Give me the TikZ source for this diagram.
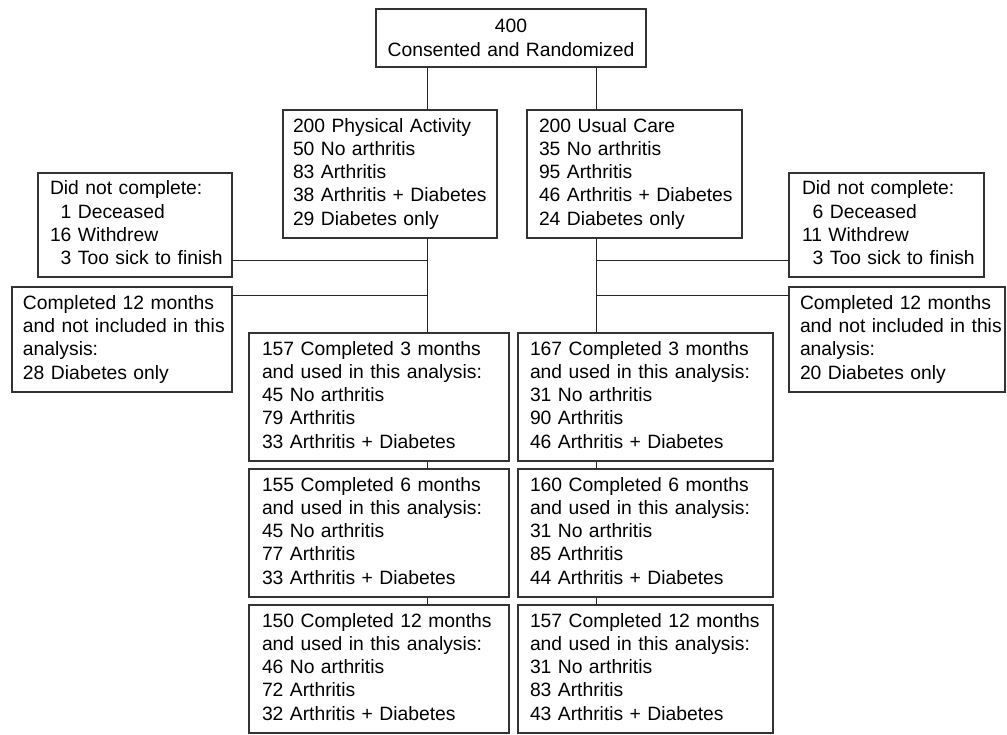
\documentclass[tikz,border=0pt]{standalone}
\usepackage{fontspec}
\setmainfont{Liberation Sans}
\newcommand{\boxlines}[1]{\begin{tabular}{@{}l@{}}#1\end{tabular}}
\begin{document}
\begin{tikzpicture}[x=1pt,y=-1pt,
  bx/.style={draw=black!80, line width=1.1pt, anchor=north west, inner xsep=0pt, inner ysep=0pt, outer sep=0pt, align=left, font=\fontsize{19.3}{23.3}\selectfont},
  ln/.style={draw=black!85, line width=1pt}]
\useasboundingbox (0,0) rectangle (1007,735);

\node[bx, align=center, minimum width=270pt, minimum height=58pt, text width=250pt] (top) at (376,9) {400\\Consented and Randomized};

\node[bx, minimum width=214pt, minimum height=128pt, text width=194pt] (pa) at (283,110)
  {\boxlines{200 Physical Activity\\50 No arthritis\\83 Arthritis\\38 Arthritis + Diabetes\\29 Diabetes only}};
\node[bx, minimum width=215pt, minimum height=128pt, text width=191pt] (uc) at (527,110)
  {\boxlines{200 Usual Care\\35 No arthritis\\95 Arthritis\\46 Arthritis + Diabetes\\24 Diabetes only}};

\node[bx, minimum width=194pt, minimum height=104pt, text width=170pt] (dncl) at (38,173)
  {\boxlines{Did not complete:\\\phantom{1}1 Deceased\\16 Withdrew\\\phantom{1}3 Too sick to finish}};
\node[bx, minimum width=195pt, minimum height=104pt, text width=169pt] (dncr) at (789,173)
  {\boxlines{Did not complete:\\\phantom{1}6 Deceased\\11 Withdrew\\\phantom{1}3 Too sick to finish}};

\node[bx, minimum width=220pt, minimum height=105pt, text width=198pt] (cmpl) at (12,287)
  {\boxlines{Completed 12 months\\and not included in this\\analysis:\\28 Diabetes only}};
\node[bx, minimum width=216pt, minimum height=105pt, text width=194pt] (cmpr) at (789,287)
  {\boxlines{Completed 12 months\\and not included in this\\analysis:\\20 Diabetes only}};

\node[bx, minimum width=260pt, minimum height=128pt, text width=234pt] (pa3) at (249,333)
  {\boxlines{157 Completed 3 months\\and used in this analysis:\\45 No arthritis\\79 Arthritis\\33 Arthritis + Diabetes}};
\node[bx, minimum width=255pt, minimum height=128pt, text width=231pt] (uc3) at (518,333)
  {\boxlines{167 Completed 3 months\\and used in this analysis:\\31 No arthritis\\90 Arthritis\\46 Arthritis + Diabetes}};

\node[bx, minimum width=260pt, minimum height=128pt, text width=234pt] (pa6) at (249,469)
  {\boxlines{155 Completed 6 months\\and used in this analysis:\\45 No arthritis\\77 Arthritis\\33 Arthritis + Diabetes}};
\node[bx, minimum width=255pt, minimum height=128pt, text width=231pt] (uc6) at (518,469)
  {\boxlines{160 Completed 6 months\\and used in this analysis:\\31 No arthritis\\85 Arthritis\\44 Arthritis + Diabetes}};

\node[bx, minimum width=260pt, minimum height=128pt, text width=234pt] (pa12) at (249,605)
  {\boxlines{150 Completed 12 months\\and used in this analysis:\\46 No arthritis\\72 Arthritis\\32 Arthritis + Diabetes}};
\node[bx, minimum width=255pt, minimum height=128pt, text width=231pt] (uc12) at (518,605)
  {\boxlines{157 Completed 12 months\\and used in this analysis:\\31 No arthritis\\83 Arthritis\\43 Arthritis + Diabetes}};

\coordinate (tl) at (427,0);
\coordinate (tr) at (596,0);
\coordinate (bl1) at (427,261);
\coordinate (bl2) at (427,296);
\coordinate (br1) at (596,261);
\coordinate (br2) at (596,296);

\draw[ln] (top.south -| tl) -- (pa.north -| tl);
\draw[ln] (top.south -| tr) -- (uc.north -| tr);
\draw[ln] (pa.south -| tl) -- (pa3.north -| tl);
\draw[ln] (uc.south -| tr) -- (uc3.north -| tr);
\draw[ln] (pa3.south -| tl) -- (pa6.north -| tl);
\draw[ln] (uc3.south -| tr) -- (uc6.north -| tr);
\draw[ln] (pa6.south -| tl) -- (pa12.north -| tl);
\draw[ln] (uc6.south -| tr) -- (uc12.north -| tr);
\draw[ln] (bl1) -- (bl1 -| dncl.east);
\draw[ln] (bl2) -- (bl2 -| cmpl.east);
\draw[ln] (br1) -- (br1 -| dncr.west);
\draw[ln] (br2) -- (br2 -| cmpr.west);
\end{tikzpicture}
\end{document}
